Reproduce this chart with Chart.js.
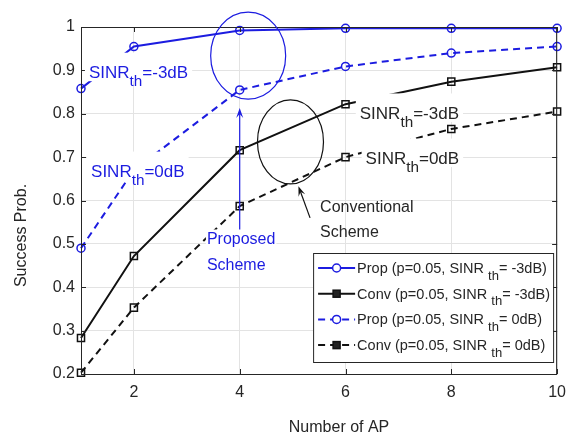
<!DOCTYPE html>
<html>
<head>
<meta charset="utf-8">
<script src="https://cdn.jsdelivr.net/npm/chart.js@4.4.1/dist/chart.umd.min.js"></script>
<style>
  html, body { margin: 0; padding: 0; background: #fff; }
  #wrap { width: 575px; height: 438px; }
</style>
</head>
<body>
<div id="wrap"><canvas id="chart"></canvas></div>
<script>
const numAP = [1, 2, 4, 6, 8, 10];
const propM3 = [0.858, 0.955, 0.992, 0.997, 0.997, 0.997];
const convM3 = [0.283, 0.472, 0.716, 0.822, 0.874, 0.907];
const prop0 = [0.49, 0.67, 0.855, 0.909, 0.94, 0.955];
const conv0 = [0.203, 0.353, 0.587, 0.70, 0.765, 0.805];
const xTicks = [2, 4, 6, 8, 10];
const yTicks = [0.2, 0.3, 0.4, 0.5, 0.6, 0.7, 0.8, 0.9, 1];
const legendLabels = [
  ["Prop (p=0.05, SINR ", "th", "= -3dB)"],
  ["Conv (p=0.05, SINR ", "th", "= -3dB)"],
  ["Prop (p=0.05, SINR ", "th", "= 0dB)"],
  ["Conv (p=0.05, SINR ", "th", "= 0dB)"]
];

const BLUE = "#1c1ce0";
const BLACK = "#111";
const TXT = "#262626";
const FONT = "Liberation Sans, Arial, sans-serif";

const pts = (ys) => numAP.map((x, i) => ({ x: x, y: ys[i] }));

function series(ys, color, dashed, style) {
  return {
    data: pts(ys),
    borderColor: color,
    backgroundColor: "rgba(0,0,0,0)",
    borderWidth: 2,
    borderDash: dashed ? [7, 5] : [],
    pointStyle: style,
    pointRadius: style === "circle" ? 4 : 5,
    pointBorderColor: color,
    pointBorderWidth: 1.5,
    pointBackgroundColor: "rgba(0,0,0,0)",
    clip: false,
    tension: 0
  };
}

// text with subscript; returns end x
function subText(ctx, parts, x, y, color, size, bg) {
  ctx.save();
  ctx.textBaseline = "alphabetic";
  ctx.textAlign = "left";
  let cx = x;
  const segs = parts.map((t, i) => {
    const sub = i === 1;
    ctx.font = (sub ? size * 0.9 : size) + "px " + FONT;
    const w = ctx.measureText(t).width;
    const s = { t, sub, x: cx, w };
    cx += w;
    return s;
  });
  if (bg) {
    ctx.fillStyle = "#fff";
    ctx.fillRect(x - 4, y - size * 1.5, cx - x + 8, size * 1.5 + 3);
  }
  ctx.fillStyle = color;
  segs.forEach(s => {
    ctx.font = (s.sub ? size * 0.9 : size) + "px " + FONT;
    ctx.fillText(s.t, s.x, s.sub ? y + size * 0.45 : y);
  });
  ctx.restore();
  return cx;
}

function plainText(ctx, t, x, y, color, size, bg) {
  ctx.save();
  ctx.font = size + "px " + FONT;
  ctx.textBaseline = "middle";
  ctx.textAlign = "left";
  const w = ctx.measureText(t).width;
  if (bg) {
    ctx.fillStyle = "#fff";
    ctx.fillRect(x - 1, y - size * 0.6, w + 2, size * 1.2);
  }
  ctx.fillStyle = color;
  ctx.fillText(t, x, y);
  ctx.restore();
}

function arrow(ctx, x1, y1, x2, y2, color) {
  const a = Math.atan2(y2 - y1, x2 - x1);
  const L = 10, W = 3.5;
  ctx.save();
  ctx.strokeStyle = color;
  ctx.fillStyle = color;
  ctx.lineWidth = 1.2;
  ctx.beginPath();
  ctx.moveTo(x1, y1);
  ctx.lineTo(x2 - Math.cos(a) * L * 0.6, y2 - Math.sin(a) * L * 0.6);
  ctx.stroke();
  ctx.beginPath();
  ctx.moveTo(x2, y2);
  ctx.lineTo(x2 - L * Math.cos(a) + W * Math.sin(a), y2 - L * Math.sin(a) - W * Math.cos(a));
  ctx.lineTo(x2 - L * 0.6 * Math.cos(a), y2 - L * 0.6 * Math.sin(a));
  ctx.lineTo(x2 - L * Math.cos(a) - W * Math.sin(a), y2 - L * Math.sin(a) + W * Math.cos(a));
  ctx.closePath();
  ctx.fill();
  ctx.restore();
}

const decor = {
  id: "decor",
  afterDatasetsDraw(chart) {
    const { ctx, chartArea: ca, scales: { x, y } } = chart;
    const X = v => x.getPixelForValue(v), Y = v => y.getPixelForValue(v);

    // frame and inner ticks
    ctx.save();
    ctx.strokeStyle = "#262626";
    ctx.lineWidth = 1;
    ctx.strokeRect(ca.left + 0.5, ca.top + 0.5, ca.right - ca.left - 1, ca.bottom - ca.top);
    ctx.beginPath();
    xTicks.forEach(v => {
      const px = Math.round(X(v)) + 0.5;
      ctx.moveTo(px, ca.bottom); ctx.lineTo(px, ca.bottom - 5);
      ctx.moveTo(px, ca.top); ctx.lineTo(px, ca.top + 5);
    });
    yTicks.forEach(v => {
      const py = Math.round(Y(v)) + 0.5;
      ctx.moveTo(ca.left, py); ctx.lineTo(ca.left + 5, py);
      ctx.moveTo(ca.right, py); ctx.lineTo(ca.right - 5, py);
    });
    ctx.stroke();
    ctx.restore();

    // ellipses
    ctx.save();
    ctx.lineWidth = 1.2;
    ctx.strokeStyle = BLUE;
    ctx.beginPath();
    ctx.ellipse(X(4.16), Y(0.934), 37.5, 43.5, 0, 0, Math.PI * 2);
    ctx.stroke();
    ctx.strokeStyle = BLACK;
    ctx.beginPath();
    ctx.ellipse(X(4.96), Y(0.735), 33, 42, 0, 0, Math.PI * 2);
    ctx.stroke();
    ctx.restore();

    // arrows
    arrow(ctx, X(4), Y(0.527), X(4), Y(0.813), BLUE);
    arrow(ctx, X(5.33), Y(0.56), X(5.11), Y(0.633), BLACK);

    // labels
    subText(ctx, ["SINR", "th", "=-3dB"], X(1.15), Y(0.882), BLUE, 17, true);
    subText(ctx, ["SINR", "th", "=0dB"], X(1.19), Y(0.654), BLUE, 17, true);
    subText(ctx, ["SINR", "th", "=-3dB"], X(6.27), Y(0.788), TXT, 17, true);
    subText(ctx, ["SINR", "th", "=0dB"], X(6.38), Y(0.684), TXT, 17, true);
    plainText(ctx, "Proposed", X(3.38), Y(0.511), BLUE, 16, true);
    plainText(ctx, "Scheme", X(3.38), Y(0.451), BLUE, 16, false);
    plainText(ctx, "Conventional", X(5.52), Y(0.583), TXT, 16, false);
    plainText(ctx, "Scheme", X(5.52), Y(0.525), TXT, 16, false);

    // legend box
    const bx = ca.right - 244, by = ca.bottom - 121, bw = 240, bh = 109;
    ctx.save();
    ctx.fillStyle = "#fff";
    ctx.fillRect(bx, by, bw, bh);
    ctx.strokeStyle = "#262626";
    ctx.lineWidth = 1;
    ctx.strokeRect(bx + 0.5, by + 0.5, bw, bh);
    ctx.restore();
    chart.data.datasets.forEach((ds, i) => {
      const ly = by + 15 + i * 25.7;
      ctx.save();
      ctx.strokeStyle = ds.borderColor;
      ctx.lineWidth = 2;
      ctx.setLineDash(ds.borderDash);
      ctx.beginPath();
      ctx.moveTo(bx + 5, ly);
      ctx.lineTo(bx + 42, ly);
      ctx.stroke();
      ctx.setLineDash([]);
      ctx.lineWidth = 1.5;
      ctx.strokeStyle = ds.pointBorderColor;
      ctx.fillStyle = "#fff";
      if (ds.pointStyle === "circle") {
        ctx.beginPath();
        ctx.arc(bx + 23.5, ly, 4, 0, Math.PI * 2);
        ctx.fill(); ctx.stroke();
      } else {
        ctx.fillStyle = "#222";
        ctx.fillRect(bx + 20, ly - 3.5, 7, 7);
        ctx.strokeRect(bx + 20, ly - 3.5, 7, 7);
      }
      ctx.restore();
      subText(ctx, legendLabels[i], bx + 44, ly + 5, TXT, 14.5, false);
    });

    // axis titles
    ctx.save();
    ctx.fillStyle = TXT;
    ctx.font = "16px " + FONT;
    ctx.textAlign = "center";
    ctx.textBaseline = "middle";
    ctx.fillText("Number of AP", (ca.left + ca.right) / 2 + 20, 428);
    ctx.translate(22, (ca.top + ca.bottom) / 2 + 35);
    ctx.rotate(-Math.PI / 2);
    ctx.fillText("Success Prob.", 0, 0);
    ctx.restore();
  }
};

new Chart(document.getElementById("chart"), {
  type: "line",
  data: {
    datasets: [
      series(propM3, BLUE, false, "circle"),
      series(convM3, BLACK, false, "rect"),
      series(prop0, BLUE, true, "circle"),
      series(conv0, BLACK, true, "rect")
    ]
  },
  options: {
    responsive: true,
    maintainAspectRatio: false,
    animation: false,
    layout: { padding: { top: 27, right: 14, left: 0, bottom: 0 } },
    plugins: { legend: { display: false }, tooltip: { enabled: false } },
    scales: {
      x: {
        type: "linear",
        min: 1,
        max: 10,
        afterBuildTicks: (s) => { s.ticks = xTicks.map(v => ({ value: v })); },
        afterFit: (s) => { s.height = 64; },
        ticks: {
          color: TXT,
          padding: 9,
          font: { family: FONT, size: 16 },
          maxRotation: 0
        },
        grid: { color: "#e3e3e3", drawTicks: false },
        border: { display: false }
      },
      y: {
        min: 0.2,
        max: 1,
        afterBuildTicks: (s) => { s.ticks = yTicks.map(v => ({ value: v })); },
        afterFit: (s) => { s.width = 81; },
        ticks: {
          color: TXT,
          padding: 6,
          font: { family: FONT, size: 16 },
          callback: (v) => String(Math.round(v * 10) / 10)
        },
        grid: { color: "#e3e3e3", drawTicks: false },
        border: { display: false }
      }
    }
  },
  plugins: [decor]
});
</script>
</body>
</html>
